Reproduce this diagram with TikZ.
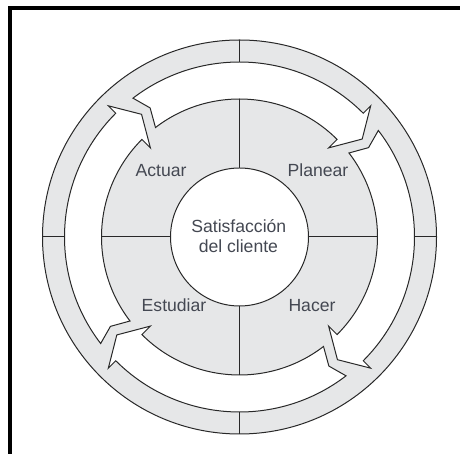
\documentclass[tikz,border=0pt]{standalone}
\usepackage{fontspec}
\setmainfont{Liberation Sans}
\definecolor{ringgray}{RGB}{230,231,232}
\definecolor{inkline}{RGB}{40,40,40}
\definecolor{labeltext}{RGB}{68,72,82}
\begin{document}
\begin{tikzpicture}[x=1pt,y=1pt,
  outline/.style={draw=inkline, line width=1pt, line join=miter},
  frameline/.style={draw=black, line width=4pt},
  phase/.style={text=labeltext, font=\fontsize{17.6}{20}\selectfont, inner sep=0pt, anchor=base},
]
\useasboundingbox (0,0) rectangle (460,454);
\coordinate (C) at (239.5,217);

% frame: left and top edges only
\draw[frameline] (9.7,0) -- (9.7,446) -- (462,446);

\begin{scope}[shift={(C)}]
  % grey disc behind everything
  \draw[outline, fill=ringgray] (0,0) circle[radius=197];
  % short ticks in the outer ring
  \foreach \a in {0,90,180,270}
    \draw[outline] (\a:175) -- (\a:197);
  % four curved arrows, turning clockwise
  \foreach \k in {0,1,2,3} {
    \pgfmathsetmacro\o{-90*\k}
    \draw[outline, fill=white]
      (\o+127.5:175) arc[start angle=\o+127.5, end angle=\o+45, radius=175]
      -- (\o+45:185.5) -- (\o+38.6:157) -- (\o+45:126) -- (\o+45:138)
      arc[start angle=\o+45, end angle=\o+127.5, radius=138]
      -- (\o+124.7:157) -- cycle;
  }
  % quadrant dividers
  \foreach \a in {0,90,180,270}
    \draw[outline] (\a:69) -- (\a:138);
  % centre
  \draw[outline, fill=white] (0,0) circle[radius=69];
\end{scope}

\node[phase] (actuar)   at (161,277.3) {Actuar};
\node[phase] (planear)  at (318,277.3) {Planear};
\node[phase] (estudiar) at (174,142.3) {Estudiar};
\node[phase] (hacer)    at (312,142.3) {Hacer};
\node[phase] (sat)      at (238.8,221) {Satisfacción};
\node[phase] (cliente)  at (238.4,201) {del cliente};
\end{tikzpicture}
\end{document}
